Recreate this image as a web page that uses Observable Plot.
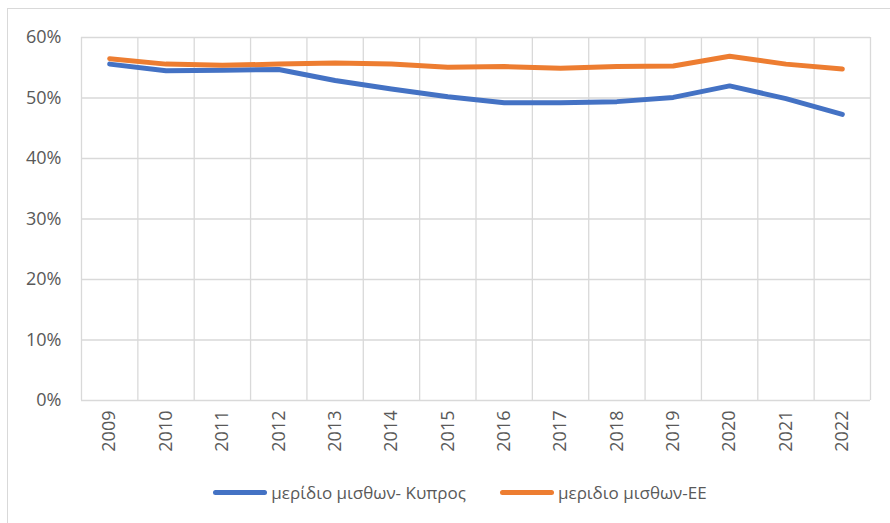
<!DOCTYPE html>
<html>
<head>
<meta charset="utf-8">
<script src="https://cdn.jsdelivr.net/npm/d3@7"></script>
<script src="https://cdn.jsdelivr.net/npm/@observablehq/plot@0.6"></script>
<style>
  html, body { margin: 0; padding: 0; background: #fff; }
  body { width: 890px; height: 523px; position: relative; overflow: hidden; font-family: "Open Sans", sans-serif; }
  #frame { position: absolute; left: 7px; top: 8px; width: 900px; height: 540px; border: 1px solid #d9d9d9; box-sizing: border-box; }
  #chart { position: absolute; left: 0; top: 0; }
  #legend { position: absolute; left: 0; top: 480px; width: 890px; height: 24px; display: flex; justify-content: center; align-items: center; gap: 34px; font-size: 17px; color: #595959; padding-left: 30px; box-sizing: border-box; }
  .item { display: flex; align-items: center; }
  .sw { width: 54px; height: 5px; border-radius: 3px; margin-right: 4px; }
</style>
</head>
<body>
<div id="frame"></div>
<div id="chart"></div>
<div id="legend"></div>
<script>
const years = [2009, 2010, 2011, 2012, 2013, 2014, 2015, 2016, 2017, 2018, 2019, 2020, 2021, 2022];
const cyprus = [0.556, 0.545, 0.546, 0.547, 0.529, 0.515, 0.502, 0.492, 0.492, 0.494, 0.501, 0.520, 0.499, 0.473];
const eu = [0.565, 0.556, 0.554, 0.556, 0.558, 0.556, 0.551, 0.552, 0.549, 0.552, 0.553, 0.569, 0.556, 0.548];
const yTicks = [0, 0.1, 0.2, 0.3, 0.4, 0.5, 0.6];
const seriesNames = ["μερίδιο μισθων- Κυπρος", "μεριδιο μισθων-ΕΕ"];
const colors = ["#4472C4", "#ED7D31"];

const rows = [];
years.forEach((yr, i) => {
  rows.push({year: yr, value: cyprus[i], series: seriesNames[0]});
  rows.push({year: yr, value: eu[i], series: seriesNames[1]});
});
const edges = years.map(y => y - 0.5).concat([years[years.length - 1] + 0.5]);

const chart = Plot.plot({
  width: 890,
  height: 470,
  marginLeft: 81,
  marginRight: 20,
  marginTop: 37,
  marginBottom: 70,
  style: {fontFamily: "Open Sans, sans-serif", fontSize: "18px", color: "#595959", background: "transparent"},
  x: {domain: [edges[0], edges[edges.length - 1]], axis: null},
  y: {domain: [0, 0.6], axis: null},
  color: {domain: seriesNames, range: colors},
  marks: [
    Plot.ruleY(yTicks, {y: d => d, stroke: "#d9d9d9", strokeWidth: 1.3, strokeOpacity: 1}),
    Plot.ruleX(edges, {x: d => d, y1: 0, y2: 0.6, stroke: "#d9d9d9", strokeWidth: 1.3, strokeOpacity: 1}),
    Plot.axisY(yTicks, {tickSize: 0, tickPadding: 20, label: null, tickFormat: d => Math.round(d * 100) + "%", fill: "#595959", fontSize: 18}),
    Plot.axisX(years, {tickSize: 0, tickPadding: 10, label: null, tickRotate: -90, tickFormat: d => String(d), fill: "#595959", fontSize: 18}),
    Plot.line(rows, {x: "year", y: "value", z: "series", stroke: "series", strokeWidth: 5, strokeLinecap: "round", strokeLinejoin: "round"})
  ]
});
document.getElementById("chart").appendChild(chart);

const legend = document.getElementById("legend");
seriesNames.forEach((name, i) => {
  const item = document.createElement("div");
  item.className = "item";
  const sw = document.createElement("div");
  sw.className = "sw";
  sw.style.background = colors[i];
  const t = document.createElement("span");
  t.textContent = name;
  item.appendChild(sw);
  item.appendChild(t);
  legend.appendChild(item);
});
</script>
</body>
</html>
